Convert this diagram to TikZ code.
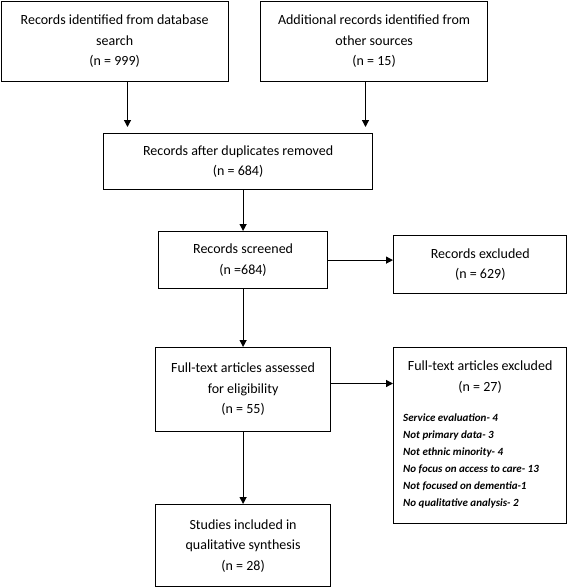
\documentclass[tikz,border=0pt]{standalone}
\usepackage{fontspec}
\setmainfont{Carlito}
\usetikzlibrary{arrows.meta}
\begin{document}
\begin{tikzpicture}[x=1pt,y=-1pt,
  box/.style={draw=black, line width=1.2pt, inner sep=0pt, anchor=north west, align=center,
    font=\fontsize{14}{20.5}\selectfont},
  conn/.style={line width=1.2pt, -{Triangle[length=7pt,width=7pt]}}]
\useasboundingbox (0,0) rectangle (567,587);
\node[box, minimum width=227pt, minimum height=80pt] (b1) at (0.6,0.6)
  {Records identified from database\\search\\(n = 999)};
\node[box, minimum width=227pt, minimum height=80pt] (b2) at (260,0.6)
  {Additional records identified from\\other sources\\(n = 15)};
\node[box, minimum width=269pt, minimum height=56pt] (b3) at (103,133)
  {Records after duplicates removed\\(n = 684)};
\node[box, minimum width=169pt, minimum height=57pt] (b4) at (158,231)
  {Records screened\\(n =684)};
\node[box, minimum width=173.4pt, minimum height=58pt] (ex) at (393,235)
  {Records excluded\\(n = 629)};
\node[box, minimum width=175pt, minimum height=84pt] (b5) at (155,347)
  {Full-text articles assessed\\for eligibility\\(n = 55)};
\node[box, minimum width=173pt, minimum height=176pt] (b6) at (393,347) {};
\node[anchor=north, inner sep=0pt, align=center, font=\fontsize{14}{20.5}\selectfont] (b6t)
  at ([yshift=-14pt]b6.north) {Full-text articles excluded\\(n = 27)};
\node[anchor=north west, inner sep=0pt, align=left, font=\fontsize{11}{17}\selectfont\bfseries\itshape] (b6l)
  at (403,414) {Service evaluation- 4\\Not primary data- 3\\Not ethnic minority- 4\\No focus on access to care- 13\\Not focused on dementia-1\\No qualitative analysis- 2};
\node[box, minimum width=175pt, minimum height=82.4pt] (b7) at (155,504)
  {Studies included in\\qualitative synthesis\\(n = 28)};
\coordinate (t1) at (127.5,127);
\coordinate (t2) at (365.5,127);
\draw[conn] (b1.south -| t1) -- (t1);
\draw[conn] (b2.south -| t2) -- (t2);
\draw[conn] (b3.south -| b4.north) -- (b4.north);
\draw[conn] (b4.east) -- (b4.east -| ex.west);
\draw[conn] (b4.south) -- (b4.south |- b5.north);
\draw[conn] (b5.east |- 0,383.5) -- (b6.west |- 0,383.5);
\draw[conn] (b5.south) -- (b7.north);
\end{tikzpicture}
\end{document}
